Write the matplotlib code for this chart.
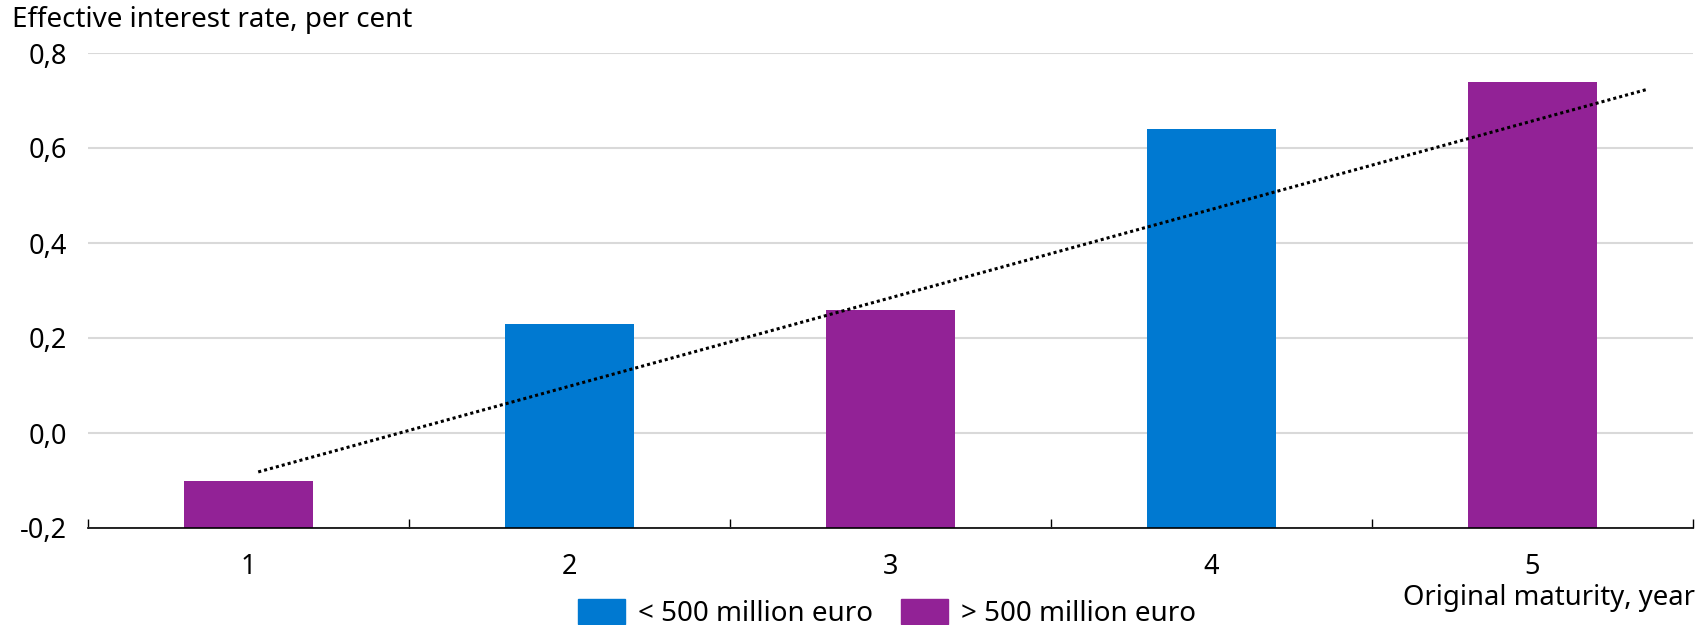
import numpy as np
import matplotlib.pyplot as plt
from matplotlib.patches import Patch

maturity = [1, 2, 3, 4, 5]
rates = [-0.10, 0.23, 0.26, 0.64, 0.74]
size_group = ["big", "small", "big", "small", "big"]

# dotted trend line, end points
trend_x = [1.03, 5.36]
trend_y = [-0.082, 0.724]

group_labels = {
    "small": "< 500 million euro",
    "big": "> 500 million euro",
}

group_colors = {
    "small": "#0079D1",
    "big": "#922296",
}

plt.rcParams["font.family"] = ["Noto Sans", "DejaVu Sans"]

fig = plt.figure(
    figsize=(17.07, 6.25),
    dpi=100
)

ax = fig.add_axes(
    [0.0516, 0.1552, 0.9402, 0.76]
)

ax.bar(
    maturity,
    [r - (-0.2) for r in rates],
    bottom=-0.2,
    width=0.4,
    color=[group_colors[g] for g in size_group],
    zorder=2
)

ax.plot(
    trend_x,
    trend_y,
    color="black",
    linestyle=(0, (1, 1)),
    linewidth=2.2,
    zorder=3
)

ax.set_xlim(0.5, 5.5)
ax.set_ylim(-0.2, 0.8)

ax.set_yticks(np.arange(-0.2, 0.81, 0.2))
ax.set_yticklabels(
    [f"{v:.1f}".replace(".", ",") for v in np.arange(-0.2, 0.81, 0.2)],
    fontsize=19.5
)
ax.tick_params(axis="y", length=0, pad=15)

ax.set_xticks(maturity)
ax.set_xticklabels([str(m) for m in maturity], fontsize=19.5)
ax.tick_params(axis="x", length=0, pad=18)

# category boundary ticks pointing up
ax.set_xticks(np.arange(0.5, 5.6, 1.0), minor=True)
ax.tick_params(
    axis="x",
    which="minor",
    direction="in",
    length=6.5,
    width=1,
    color="black"
)

ax.grid(axis="y", color="#d9d9d9", linewidth=1.5, zorder=0)
ax.set_axisbelow(True)

for side in ["top", "right", "left"]:
    ax.spines[side].set_visible(False)
ax.spines["bottom"].set_color("black")
ax.spines["bottom"].set_linewidth(1.2)
ax.spines["bottom"].set_zorder(4)

fig.text(
    0.007,
    0.968,
    "Effective interest rate, per cent",
    fontsize=20,
    va="center",
    ha="left"
)

fig.text(
    0.993,
    0.043,
    "Original maturity, year",
    fontsize=19.8,
    va="center",
    ha="right"
)

handles = [
    Patch(color=group_colors["small"], label=group_labels["small"]),
    Patch(color=group_colors["big"], label=group_labels["big"]),
]

fig.legend(
    handles=handles,
    loc="center",
    bbox_to_anchor=(0.5195, 0.018),
    ncol=2,
    frameon=False,
    fontsize=20,
    handlelength=1.69,
    handleheight=0.97,
    handletextpad=0.47,
    columnspacing=1.0
)

fig.savefig("out.png", dpi=100)
